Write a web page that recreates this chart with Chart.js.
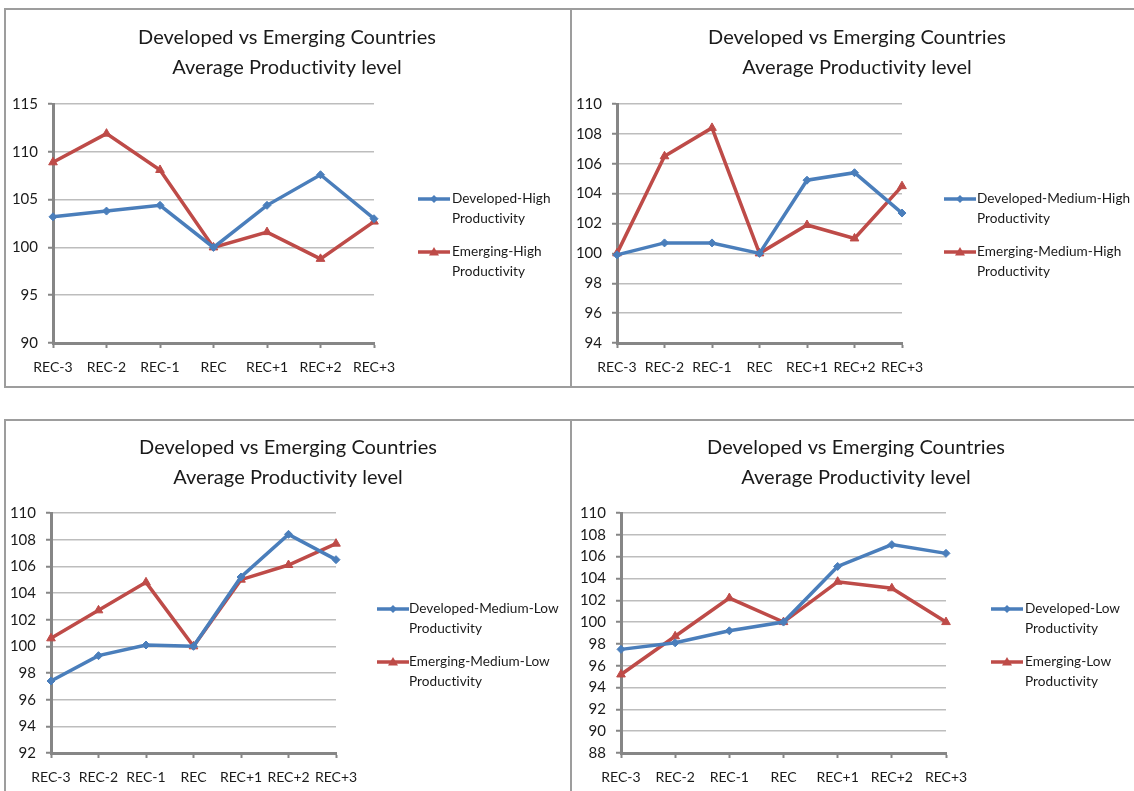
<!DOCTYPE html>
<html>
<head>
<meta charset="utf-8">
<title>Developed vs Emerging Countries - Average Productivity level</title>
<script src="https://cdn.jsdelivr.net/npm/chart.js@4/dist/chart.umd.min.js"></script>
<style>
  html, body { margin: 0; padding: 0; background: #fff; overflow: hidden; }
  body { width: 1134px; height: 791px; position: relative; }
  .box { position: absolute; }
  .frame { position: absolute; border: 2px solid #9d9d9d; box-sizing: border-box; pointer-events: none; }
</style>
</head>
<body>
<div class="frame" style="left:4px;top:8px;width:568px;height:380px"></div>
<div class="frame" style="left:570px;top:8px;width:600px;height:380px"></div>
<div class="frame" style="left:4px;top:419px;width:568px;height:420px"></div>
<div class="frame" style="left:570px;top:419px;width:600px;height:420px"></div>

<div class="box" style="left:4px;top:8px;width:566px;height:378px"><canvas id="chartHigh"></canvas></div>
<div class="box" style="left:570px;top:8px;width:564px;height:378px"><canvas id="chartMedHigh"></canvas></div>
<div class="box" style="left:4px;top:419px;width:566px;height:372px"><canvas id="chartMedLow"></canvas></div>
<div class="box" style="left:570px;top:419px;width:564px;height:372px"><canvas id="chartLow"></canvas></div>

<script>
// Periods around the recession year
const periods = ['REC-3', 'REC-2', 'REC-1', 'REC', 'REC+1', 'REC+2', 'REC+3'];

// Average productivity level (REC = 100)
const developedHigh = [103.2, 103.8, 104.4, 100, 104.4, 107.6, 103.0];
const emergingHigh = [108.9, 111.9, 108.1, 100, 101.6, 98.8, 102.7];

const developedMedHigh = [99.9, 100.7, 100.7, 100, 104.9, 105.4, 102.7];
const emergingMedHigh = [100, 106.5, 108.4, 100, 101.9, 101.0, 104.5];

const developedMedLow = [97.4, 99.3, 100.1, 100, 105.2, 108.4, 106.5];
const emergingMedLow = [100.6, 102.7, 104.8, 100, 105.0, 106.1, 107.7];

const developedLow = [97.5, 98.1, 99.2, 100, 105.1, 107.1, 106.3];
const emergingLow = [95.2, 98.7, 102.2, 100, 103.7, 103.1, 100.0];

// y axis ranges [min, max, step]
const rangeHigh = [90, 115, 5];
const rangeMedHigh = [94, 110, 2];
const rangeMedLow = [92, 110, 2];
const rangeLow = [88, 110, 2];

const TITLE = ['Developed vs Emerging Countries', 'Average Productivity level'];
const BLUE = '#4a7ebb';
const RED = '#be4b48';
const FONT = 'Lato, "Open Sans", sans-serif';
const TEXT = '#1a1a1a';

/**
 * Two-line title centred on the panel, and a legend to the right of the plot
 * with labels wrapped on two lines
 */
const panelDecor = {
    id: 'panelDecor',
    afterDraw(chart, args, opts) {
        const ctx = chart.ctx;
        ctx.save();
        // a hair of spacing keeps the "ti" ligature from kicking in
        if ('letterSpacing' in ctx) ctx.letterSpacing = '0.05px';
        ctx.fillStyle = TEXT;
        ctx.textBaseline = 'middle';
        ctx.textAlign = 'center';
        ctx.font = '20px ' + FONT;
        TITLE.forEach((line, k) => ctx.fillText(line, opts.titleX, opts.titleY + k * 30));

        chart.data.datasets.forEach((ds, i) => {
            const y = opts.legendY + i * 53;
            ctx.strokeStyle = ds.borderColor;
            ctx.lineWidth = 3.5;
            ctx.beginPath();
            ctx.moveTo(opts.legendX, y);
            ctx.lineTo(opts.legendX + 32, y);
            ctx.stroke();
            drawMarker(ctx, ds.pointStyle, opts.legendX + 16, y, ds.pointRadius, ds.borderColor);

            ctx.fillStyle = TEXT;
            ctx.font = '13.6px ' + FONT;
            ctx.textAlign = 'left';
            ds.legendLines.forEach((line, k) => {
                ctx.fillText(line, opts.legendTextX, y + k * 20);
            });
        });
        ctx.restore();
    }
};

function drawMarker(ctx, style, x, y, r, color) {
    ctx.fillStyle = color;
    ctx.beginPath();
    if (style === 'triangle') {
        ctx.moveTo(x, y - r);
        ctx.lineTo(x + r, y + r * 0.7);
        ctx.lineTo(x - r, y + r * 0.7);
    } else {
        ctx.moveTo(x, y - r);
        ctx.lineTo(x + r, y);
        ctx.lineTo(x, y + r);
        ctx.lineTo(x - r, y);
    }
    ctx.closePath();
    ctx.fill();
}

function makeDataset(label, data, color, style, radius) {
    const words = label.split(' ');
    return {
        label: label,
        legendLines: [words.slice(0, -1).join(' '), words[words.length - 1]],
        data: data,
        borderColor: color,
        backgroundColor: color,
        borderWidth: 3.5,
        pointStyle: style,
        pointRadius: radius,
        pointBorderWidth: 1,
        pointHoverRadius: radius,
        tension: 0,
    };
}

/**
 * Build one panel; layout gives plot area edges inside the canvas
 */
function createChart(id, devLabel, devData, emLabel, emData, range, layout) {
    const ctx = document.getElementById(id).getContext('2d');
    new Chart(ctx, {
        type: 'line',
        data: {
            labels: periods,
            datasets: [
                makeDataset(devLabel, devData, BLUE, 'rectRot', 4),
                makeDataset(emLabel, emData, RED, 'triangle', 5),
            ],
        },
        options: {
            responsive: true,
            maintainAspectRatio: false,
            animation: false,
            layout: { padding: { left: 0, top: layout.top, bottom: 0, right: layout.padRight } },
            plugins: {
                legend: { display: false },
                tooltip: { enabled: false },
                title: { display: false },
                panelDecor: {
                    titleX: layout.titleX, titleY: layout.titleY,
                    legendX: layout.legendX, legendTextX: layout.legendTextX, legendY: layout.legendY,
                },
            },
            scales: {
                x: {
                    offset: false,
                    afterFit: s => { s.height = layout.xHeight; },
                    border: { display: true, color: '#868686', width: 3 },
                    grid: { display: true, drawOnChartArea: false, drawTicks: true, tickLength: 5, tickColor: '#868686', tickWidth: 2 },
                    ticks: { color: TEXT, font: { family: FONT, size: 14 }, padding: 11, maxRotation: 0, autoSkip: false },
                },
                y: {
                    min: range[0],
                    max: range[1],
                    afterFit: s => { s.width = layout.yWidth; },
                    border: { display: true, color: '#868686', width: 3 },
                    grid: { color: '#bdbdbd', lineWidth: 1.5, tickLength: 5, tickColor: '#868686', tickWidth: 2 },
                    ticks: { stepSize: range[2], color: TEXT, font: { family: FONT, size: 15 }, padding: 10 },
                },
            },
        },
        plugins: [panelDecor],
    });
}

createChart('chartHigh', 'Developed-High Productivity', developedHigh, 'Emerging-High Productivity', emergingHigh, rangeHigh,
    { top: 96, yWidth: 49, padRight: 196, xHeight: 43, titleX: 283, titleY: 30, legendX: 414, legendTextX: 448, legendY: 191 });
createChart('chartMedHigh', 'Developed-Medium-High Productivity', developedMedHigh, 'Emerging-Medium-High Productivity', emergingMedHigh, rangeMedHigh,
    { top: 96, yWidth: 47, padRight: 232, xHeight: 43, titleX: 287, titleY: 30, legendX: 374, legendTextX: 407, legendY: 191 });
createChart('chartMedLow', 'Developed-Medium-Low Productivity', developedMedLow, 'Emerging-Medium-Low Productivity', emergingMedLow, rangeMedLow,
    { top: 94, yWidth: 47, padRight: 234, xHeight: 38, titleX: 284, titleY: 29, legendX: 373, legendTextX: 405, legendY: 190 });
createChart('chartLow', 'Developed-Low Productivity', developedLow, 'Emerging-Low Productivity', emergingLow, rangeLow,
    { top: 94, yWidth: 51, padRight: 188, xHeight: 38, titleX: 286, titleY: 29, legendX: 421, legendTextX: 455, legendY: 190 });
</script>
</body>
</html>
